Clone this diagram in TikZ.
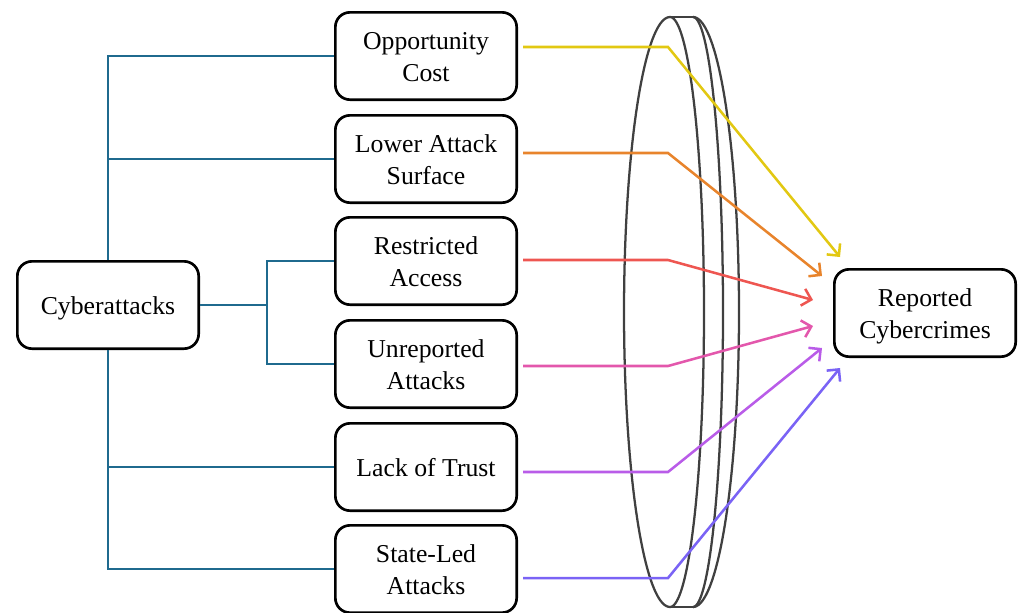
\documentclass[tikz,border=0pt]{standalone}
\usepackage{fontspec}
\setmainfont{Liberation Serif}
\usetikzlibrary{arrows.meta,calc}
\definecolor{teal1}{HTML}{1F6A8E}
\definecolor{cyel}{HTML}{E2C812}
\definecolor{cora}{HTML}{E8842C}
\definecolor{cred}{HTML}{EE5651}
\definecolor{cpink}{HTML}{E357AC}
\definecolor{cpur}{HTML}{B95CE8}
\definecolor{cvio}{HTML}{7A63F5}
\definecolor{lensg}{HTML}{404040}
\newcommand\lowtxt[1]{\raisebox{-2.5pt}[\height][\depth]{\begin{tabular}{@{}c@{}}#1\end{tabular}}}
\begin{document}
\begin{tikzpicture}[x=0.75pt,y=-0.75pt,
  box/.style={draw=black,line width=2pt,rounded corners=11pt,fill=white,
    minimum width=136pt,minimum height=65.5pt,align=center,inner sep=2pt,
    font=\fontsize{19.3}{23.5}\selectfont},
  tree/.style={teal1,line width=1.9pt},
  arr/.style={line width=1.9pt,-{Straight Barb[length=6.5pt,width=13pt,line width=1.9pt]}},
  lens/.style={lensg,line width=1.7pt}]
\useasboundingbox (0,0) rectangle (1019,612);
% lens
\draw[lens] plot[domain=90:270,samples=80] ({670+46*cos(\x)},{312+295*sin(\x)});
\draw[lens] plot[domain=-90:90,samples=80] ({670+34*cos(\x)},{312+295*sin(\x)});
\draw[lens] plot[domain=-90:90,samples=80] ({693+30*cos(\x)},{312+295*sin(\x)});
\draw[lens] plot[domain=-90:90,samples=80] ({693+46*cos(\x)},{312+295*sin(\x)});
\draw[lens] (670,17) -- (693,17);
\draw[lens] (670,607) -- (693,607);
% nodes
\node[box] (cy) at (108,305) {\lowtxt{Cyberattacks}};
\node[box] (oc) at (426,56) {\lowtxt{Opportunity\\Cost}};
\node[box] (la) at (426,159) {\lowtxt{Lower Attack\\Surface}};
\node[box] (ra) at (426,261) {\lowtxt{Restricted\\Access}};
\node[box] (ua) at (426,364) {\lowtxt{Unreported\\Attacks}};
\node[box] (lt) at (426,467) {\lowtxt{Lack of Trust}};
\node[box] (sl) at (426,569) {\lowtxt{State-Led\\Attacks}};
\node[box] (rc) at (925,313) {\lowtxt{Reported\\Cybercrimes}};
% tree connectors
\coordinate (j) at (267,305);
\draw[tree] (cy.north) |- (oc.west);
\draw[tree] (cy.north) |- (la.west);
\draw[tree] (cy.east) -- (j);
\draw[tree] (j) |- (ra.west);
\draw[tree] (j) |- (ua.west);
\draw[tree] (cy.south) |- (lt.west);
\draw[tree] (cy.south) |- (sl.west);
% arrow bends and tips
\coordinate (b1) at (668,47);  \coordinate (t1) at (840,257);
\coordinate (b2) at (668,153); \coordinate (t2) at (822,276);
\coordinate (b3) at (668,260); \coordinate (t3) at (813,300);
\coordinate (b4) at (668,366); \coordinate (t4) at (813,326);
\coordinate (b5) at (668,472); \coordinate (t5) at (822,348);
\coordinate (b6) at (668,578); \coordinate (t6) at (840,368);
\draw[arr,cyel] (oc.east |- b1) ++(5,0) -- (b1) -- (t1);
\draw[arr,cora] (la.east |- b2) ++(5,0) -- (b2) -- (t2);
\draw[arr,cred] (ra.east |- b3) ++(5,0) -- (b3) -- (t3);
\draw[arr,cpink] (ua.east |- b4) ++(5,0) -- (b4) -- (t4);
\draw[arr,cpur] (lt.east |- b5) ++(5,0) -- (b5) -- (t5);
\draw[arr,cvio] (sl.east |- b6) ++(5,0) -- (b6) -- (t6);
\end{tikzpicture}
\end{document}
